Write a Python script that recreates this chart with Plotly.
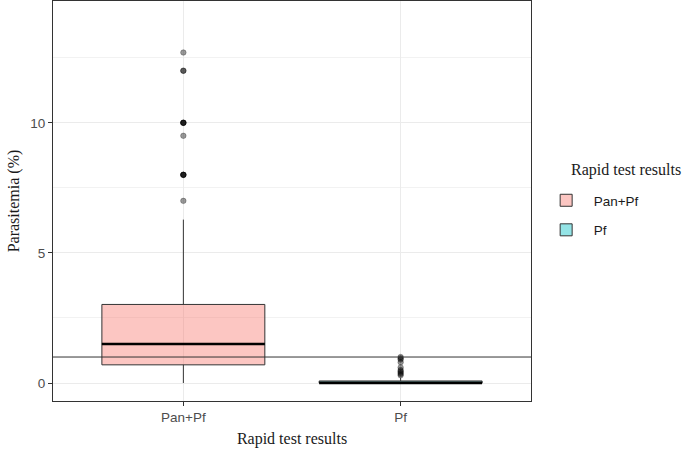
import plotly.graph_objects as go

# ---- data ----
groups = ["Pan+Pf", "Pf"]
positions = [1, 2]
q1 = [0.70, 0.0]
median = [1.50, 0.0]
q3 = [3.02, 0.08]
lower_fence = [0.0, 0.0]
upper_fence = [6.28, 0.20]
outliers_panpf = [12.7, 12.0, 12.0, 10.0, 10.0, 10.0, 10.0, 9.5, 8.0, 8.0, 8.0, 8.0, 7.0]
outliers_pf = [1.0, 0.95, 0.9, 0.8, 0.6, 0.5, 0.45, 0.4, 0.35, 0.3]
threshold = [1.0]
fill_colors = ["rgba(248,118,109,0.42)", "rgba(0,191,196,0.42)"]
y_ticks = [0, 5, 10]
legend_title = "Rapid test results"
x_title = "Rapid test results"
y_title = "Parasitemia (%)"

BOX_W = 0.75
SERIF = "Liberation Serif"
SANS = "Liberation Sans"

fig = go.Figure()
for i, g in enumerate(groups):
    fig.add_trace(go.Box(
        x=[positions[i]], q1=[q1[i]], median=[median[i]], q3=[q3[i]],
        lowerfence=[lower_fence[i]], upperfence=[upper_fence[i]],
        name=g, legendgroup=g, width=BOX_W, fillcolor=fill_colors[i], whiskerwidth=0,
        line=dict(color="#333333", width=1), boxpoints=False,
        showlegend=True, hoverinfo="skip",
    ))
for i, g in enumerate(groups):
    fig.add_trace(go.Scatter(
        x=[positions[i] - BOX_W / 2, positions[i] + BOX_W / 2],
        y=[median[i], median[i]], mode="lines",
        line=dict(color="black", width=2.6), showlegend=False, hoverinfo="skip",
    ))
for i, outs in enumerate([outliers_panpf, outliers_pf]):
    fig.add_trace(go.Scatter(
        x=[positions[i]] * len(outs), y=outs, mode="markers",
        marker=dict(size=5.5, color="rgba(0,0,0,0.4)", line=dict(color="rgba(0,0,0,0.35)", width=0.8)),
        showlegend=False, hoverinfo="skip",
    ))
for t in threshold:
    fig.add_hline(y=t, line=dict(color="#333333", width=1))

fig.add_annotation(
    text=legend_title, xref="paper", yref="paper", x=1.08, y=0.5775,
    xanchor="left", yanchor="middle", showarrow=False,
    font=dict(family=SERIF, size=16, color="#1a1a1a"),
)

grid = "#EBEBEB"
fig.update_layout(
    width=685, height=453,
    margin=dict(l=53, r=154, t=1, b=52, autoexpand=False),
    paper_bgcolor="white", plot_bgcolor="white",
    font=dict(family=SANS, size=13.5, color="#4D4D4D"),
    legend=dict(
        x=1.016, y=0.54, xanchor="left", yanchor="top",
        font=dict(family=SANS, size=13.5, color="#1a1a1a"),
        bgcolor="rgba(0,0,0,0)", traceorder="grouped", tracegroupgap=9, itemwidth=45,
    ),
    xaxis=dict(
        range=[0.4, 2.6], tickmode="array", tickvals=positions, ticktext=groups,
        showgrid=True, gridcolor=grid, gridwidth=1, zeroline=False, automargin=False,
        showline=True, linecolor="#333333", linewidth=1, mirror=True,
        ticks="outside", ticklen=4, tickcolor="#333333",
        title=dict(text=x_title, font=dict(family=SERIF, size=16, color="#1a1a1a"), standoff=8),
    ),
    yaxis=dict(
        range=[-0.69, 14.68], tickmode="array", tickvals=y_ticks,
        showgrid=True, gridcolor=grid, gridwidth=1, zeroline=False, automargin=False,
        showline=True, linecolor="#333333", linewidth=1, mirror=True,
        ticks="outside", ticklen=4, tickcolor="#333333",
        minor=dict(tickmode="array", tickvals=[2.5, 7.5, 12.5], showgrid=True, gridcolor="#F2F2F2", gridwidth=0.6, ticks=""),
        title=dict(text=y_title, font=dict(family=SERIF, size=16, color="#1a1a1a"), standoff=6),
    ),
)

fig.write_html("out.html", config={"displayModeBar": False},
               post_script="document.body.style.margin='0';")
